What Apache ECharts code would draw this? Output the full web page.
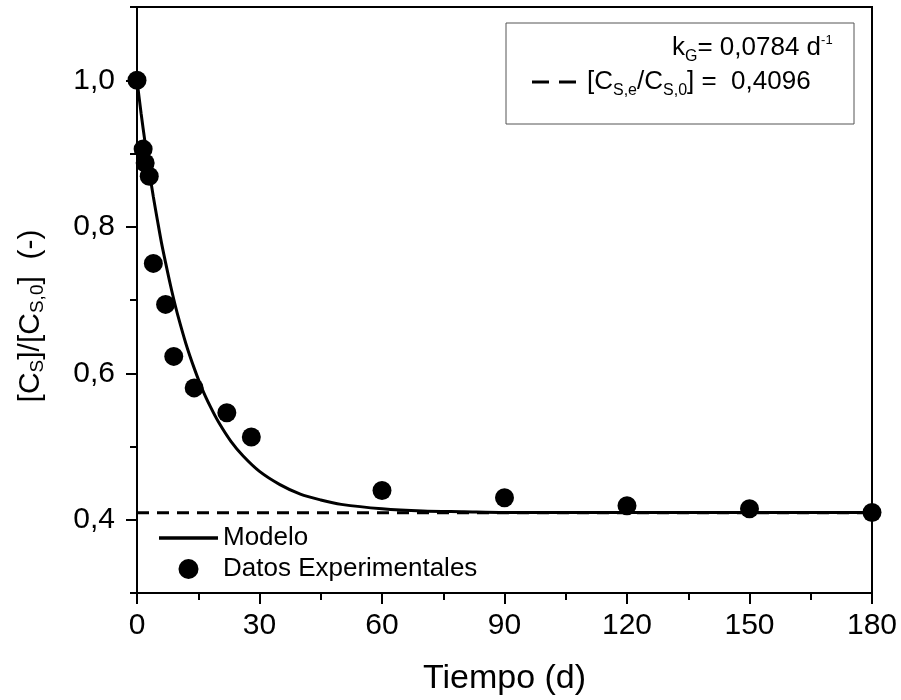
<!DOCTYPE html>
<html>
<head>
<meta charset="utf-8">
<script src="https://cdn.jsdelivr.net/npm/echarts@6/dist/echarts.min.js"></script>
<style>
  html, body { margin: 0; padding: 0; background: #fff; }
  #chart { width: 901px; height: 700px; }
</style>
</head>
<body>
<div id="chart"></div>
<script>
// ---- data ----
const expTime = [0, 1.5, 2, 3, 4, 7, 9, 14, 22, 28, 60, 90, 120, 150, 180];
const expConc = [1.000, 0.906, 0.887, 0.869, 0.750, 0.694, 0.623, 0.580, 0.546, 0.513, 0.440, 0.430, 0.419, 0.415, 0.410];

const modelTime = [0, 1, 2, 3, 4, 5, 6, 7, 8, 9, 10, 12, 14, 16, 18, 20, 23, 26, 30, 35, 40, 45, 50, 60, 70, 80, 90, 120, 150, 180];
const modelConc = [1.000, 0.955, 0.914, 0.876, 0.841, 0.809, 0.778, 0.751, 0.725, 0.701, 0.679, 0.640, 0.607, 0.578, 0.554, 0.533, 0.507, 0.487, 0.466, 0.448, 0.435, 0.427, 0.421, 0.415, 0.412, 0.411, 0.410, 0.410, 0.410, 0.410];

const eqTime = [0, 180];
const eqConc = [0.4096, 0.4096];

const yMajorTicks = [0.4, 0.6, 0.8, 1.0];
const xTicks = [0, 30, 60, 90, 120, 150, 180];

const seriesNames = ['Modelo', 'Datos Experimentales'];
// ---------------------------------------

const FONT = "'Liberation Sans', Arial, Helvetica, sans-serif";
const zip = (a, b) => a.map((v, i) => [v, b[i]]);
const fmt = v => Number(v).toFixed(1).replace('.', ',');

const chart = echarts.init(document.getElementById('chart'), null, { renderer: 'canvas' });

const option = {
  animation: false,
  backgroundColor: '#fff',
  textStyle: { fontFamily: FONT, color: '#000' },
  grid: {
    left: 137, right: 29, top: 7, bottom: 107,
    containLabel: false, outerBoundsMode: 'none',
    show: true, borderColor: '#000', borderWidth: 2, backgroundColor: 'transparent'
  },
  xAxis: {
    type: 'value',
    min: xTicks[0], max: xTicks[xTicks.length - 1], interval: 30,
    axisLine: { show: true, onZero: false, lineStyle: { color: '#000', width: 2 } },
    axisTick: { show: true, inside: false, length: 11, lineStyle: { color: '#000', width: 2 } },
    minorTick: { show: true, splitNumber: 2, length: 7, lineStyle: { color: '#000', width: 2 } },
    axisLabel: { fontSize: 30, color: '#000', margin: 18, fontFamily: FONT },
    splitLine: { show: false },
    name: 'Tiempo (d)', nameLocation: 'middle', nameGap: 69,
    nameTextStyle: { fontSize: 34, color: '#000', fontFamily: FONT }
  },
  yAxis: [
    {
      type: 'value', position: 'left',
      min: 0.3, max: 1.1, interval: 0.1,
      axisLine: { show: true, onZero: false, lineStyle: { color: '#000', width: 2 } },
      axisTick: { show: true, inside: false, length: 11, customValues: yMajorTicks, lineStyle: { color: '#000', width: 2 } },
      axisLabel: { fontSize: 30, color: '#000', margin: 22, fontFamily: FONT, customValues: yMajorTicks, formatter: fmt },
      splitLine: { show: false },
      name: '{m|[C}{s|S}{m|]/[C}{s|S,0}{m|]  (-)}',
      nameLocation: 'middle', nameGap: 90, nameRotate: 90,
      nameTextStyle: {
        color: '#000', fontFamily: FONT, padding: [0, 32, 0, 0],
        rich: {
          m: { fontSize: 30, fontFamily: FONT, color: '#000' },
          s: { fontSize: 19, fontFamily: FONT, color: '#000', padding: [14, 0, 0, 0] }
        }
      }
    },
    {
      type: 'value', position: 'left',
      min: 0.3, max: 1.1, interval: 0.1,
      axisLine: { show: false },
      axisTick: { show: true, inside: false, length: 7, lineStyle: { color: '#000', width: 2 } },
      axisLabel: { show: false },
      splitLine: { show: false }
    }
  ],
  legend: {
    data: [
      { name: seriesNames[0], icon: 'path://M0,0L59,0L59,3.5L0,3.5Z' },
      { name: seriesNames[1], icon: 'circle' }
    ],
    orient: 'vertical',
    left: 154, top: 520,
    itemWidth: 59, itemHeight: 20, itemGap: 5,
    symbolKeepAspect: true,
    textStyle: { fontSize: 26, color: '#000', fontFamily: FONT },
    selectedMode: false
  },
  series: [
    {
      name: 'Equilibrio',
      type: 'line',
      data: zip(eqTime, eqConc),
      symbol: 'none',
      lineStyle: { color: '#000', width: 3, type: [12, 8] },
      silent: true, z: 2
    },
    {
      name: seriesNames[0],
      type: 'line',
      data: zip(modelTime, modelConc),
      symbol: 'none',
      smooth: 0.3,
      lineStyle: { color: '#000', width: 3 },
      itemStyle: { color: '#000' },
      z: 3
    },
    {
      name: seriesNames[1],
      type: 'scatter',
      data: zip(expTime, expConc),
      symbol: 'circle',
      symbolSize: 19,
      itemStyle: { color: '#000', opacity: 1 },
      clip: false,
      z: 4
    }
  ],
  graphic: [
    {
      type: 'rect', z: 10,
      shape: { x: 506, y: 23, width: 348, height: 101 },
      style: { fill: '#fff', stroke: '#555', lineWidth: 1 }
    },
    {
      type: 'text', z: 11, x: 672, y: 48,
      style: {
        text: '{m|k}{s|G}{m|= 0,0784 d}{p|-1}',
        verticalAlign: 'middle', align: 'left',
        rich: {
          m: { fontSize: 26, fontFamily: FONT, color: '#000' },
          s: { fontSize: 16, fontFamily: FONT, color: '#000', padding: [18, 0, 0, 0] },
          p: { fontSize: 13, fontFamily: FONT, color: '#000', padding: [0, 0, 16, 0] }
        }
      }
    },
    {
      type: 'line', z: 11,
      shape: { x1: 532, y1: 82, x2: 582, y2: 82 },
      style: { stroke: '#000', lineWidth: 3, lineDash: [17, 10] }
    },
    {
      type: 'text', z: 11, x: 587, y: 82,
      style: {
        text: '{m|[C}{s|S,e}{m|/C}{s|S,0}{m|] =  0,4096}',
        verticalAlign: 'middle', align: 'left',
        rich: {
          m: { fontSize: 26, fontFamily: FONT, color: '#000' },
          s: { fontSize: 16, fontFamily: FONT, color: '#000', padding: [18, 0, 0, 0] }
        }
      }
    }
  ]
};

chart.setOption(option);
</script>
</body>
</html>
